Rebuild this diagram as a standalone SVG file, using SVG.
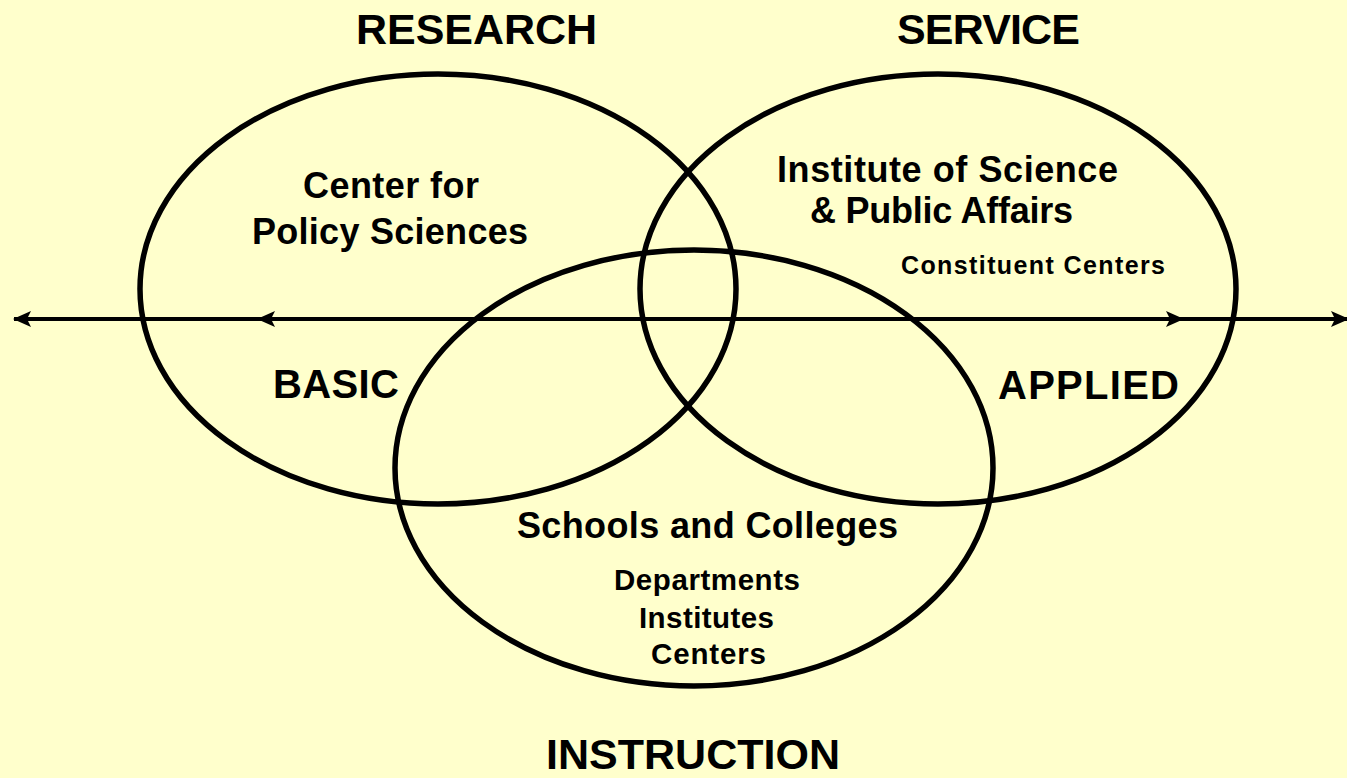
<svg xmlns="http://www.w3.org/2000/svg" width="1347" height="778" viewBox="0 0 1347 778">
<style>
.bg{fill:#FFFFCC}
.ell{fill:none;stroke:#000;stroke-width:5.5}
.ln{stroke:#000;stroke-width:4;fill:none}
text{font-family:"Liberation Sans",Arial,sans-serif;font-weight:bold;fill:#000}
.h{font-size:43px}
.m{font-size:36px}
.s{font-size:29.5px}
.xs{font-size:25px}
.k{font-size:40px}
</style>
<defs>
<marker id="ah" viewBox="0 0 18 18" refX="17" refY="9" markerWidth="18" markerHeight="18" markerUnits="userSpaceOnUse" orient="auto-start-reverse">
<path d="M0,1 L18,9 L0,17 L4,9 Z" fill="#000"/>
</marker>
</defs>
<rect class="bg" x="0" y="0" width="1347" height="778"/>
<g id="connectors">
<line class="ln" x1="14" y1="319" x2="1348" y2="319" marker-start="url(#ah)" marker-end="url(#ah)"/>
<line class="ln" x1="258" y1="319" x2="1183" y2="319" marker-start="url(#ah)" marker-end="url(#ah)"/>
</g>
<g id="research">
<ellipse class="ell" cx="438" cy="289" rx="298" ry="215"/>
<text class="h" x="356" y="44" textLength="241">RESEARCH</text>
<text class="m" x="303" y="198" textLength="176">Center for</text>
<text class="m" x="252" y="244" textLength="276">Policy Sciences</text>
</g>
<g id="service">
<ellipse class="ell" cx="938" cy="289" rx="298" ry="215"/>
<text class="h" x="897" y="44" textLength="183">SERVICE</text>
<text class="m" x="777" y="182" textLength="341">Institute of Science</text>
<text class="m" x="810" y="223" textLength="263">&amp; Public Affairs</text>
<text class="xs" x="901" y="274" textLength="264">Constituent Centers</text>
</g>
<g id="instruction">
<ellipse class="ell" cx="694" cy="468" rx="299" ry="218"/>
<text class="m" x="517" y="538" textLength="381">Schools and Colleges</text>
<text class="s" x="614" y="590" textLength="186">Departments</text>
<text class="s" x="639" y="628" textLength="135">Institutes</text>
<text class="s" x="651" y="664" textLength="115">Centers</text>
<text class="h" x="546" y="769" textLength="294">INSTRUCTION</text>
</g>
<g id="axis-labels">
<text class="k" x="273" y="398" textLength="126">BASIC</text>
<text class="k" x="998" y="399" textLength="181">APPLIED</text>
</g>
</svg>
